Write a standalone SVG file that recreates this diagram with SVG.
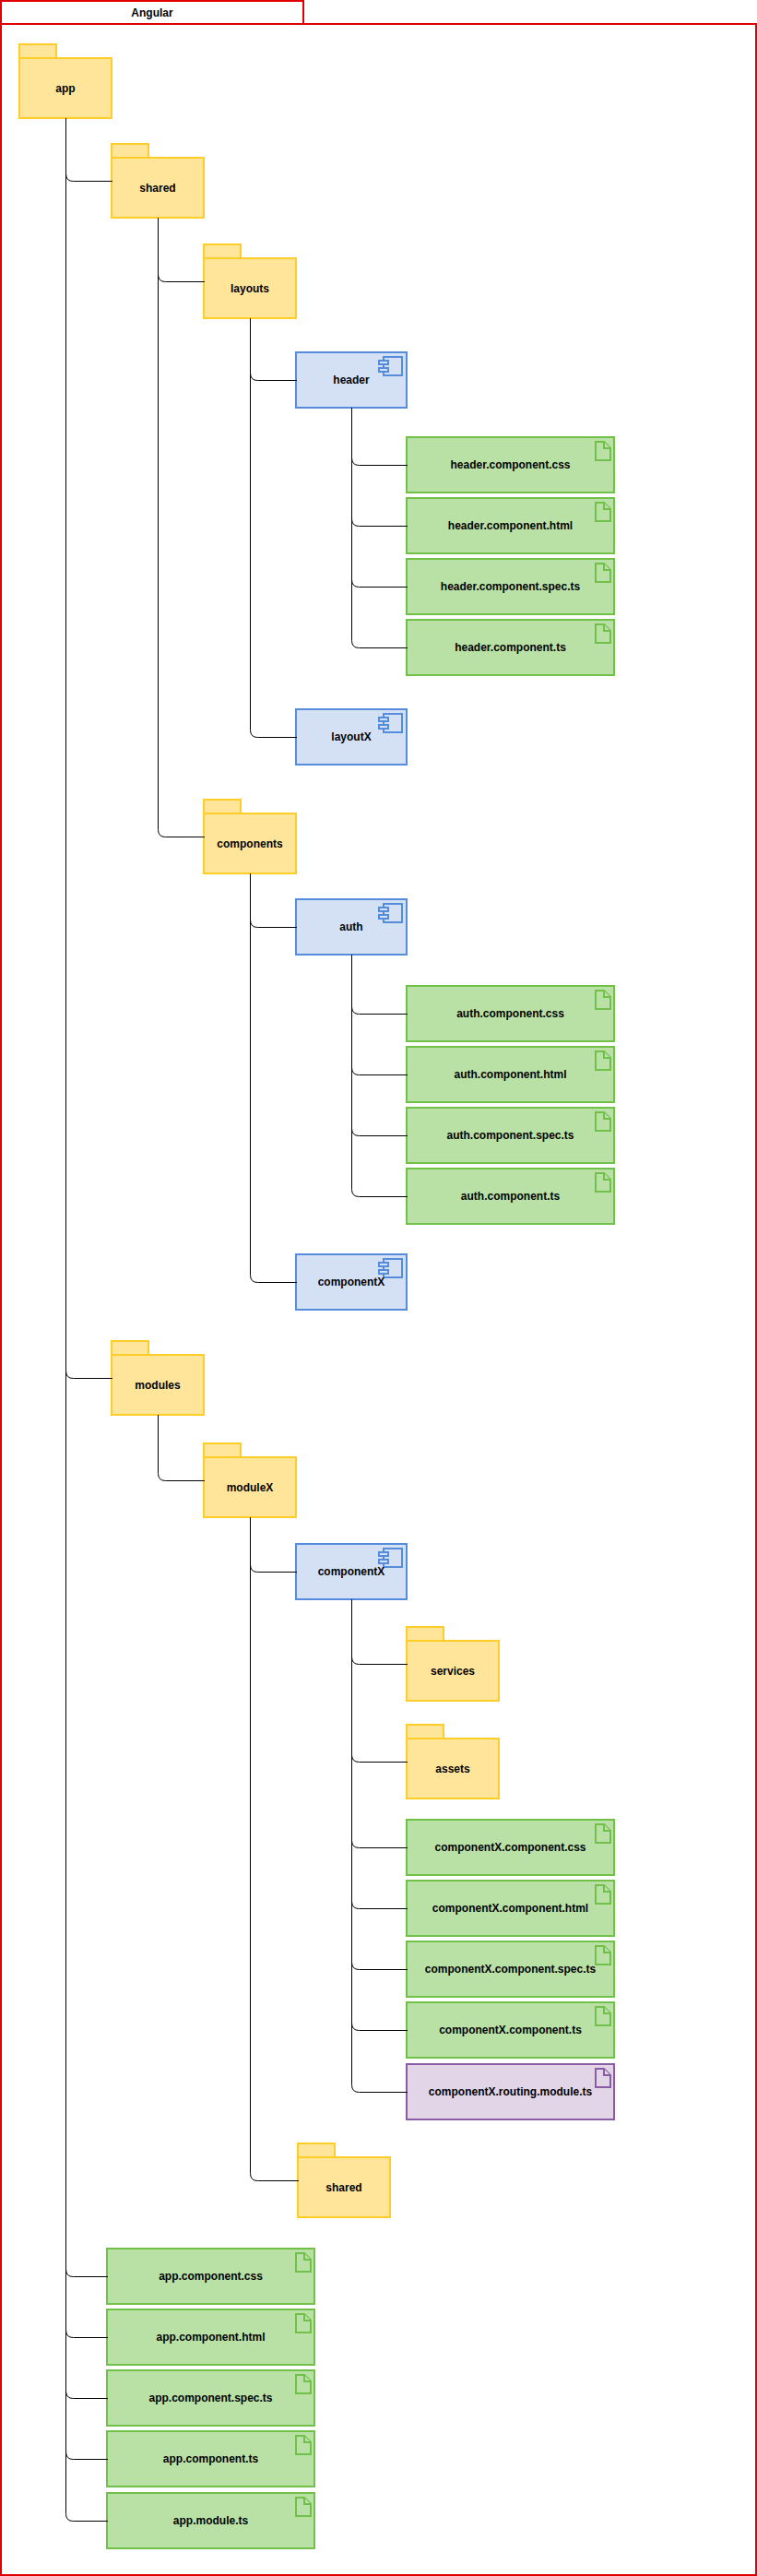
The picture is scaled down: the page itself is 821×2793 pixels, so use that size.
<svg xmlns="http://www.w3.org/2000/svg" xmlns:xlink="http://www.w3.org/1999/xlink" width="821" height="2793" viewBox="0 0 821 2793">
<style>
text{font-family:"Liberation Sans",Arial,Helvetica,sans-serif;font-size:12px;font-weight:bold;fill:#000;text-anchor:middle;opacity:.99}
.lane{fill:#fff;stroke:#e00000;stroke-width:2}
.folder{fill:#ffe599;stroke:#ffcd28;stroke-width:2}
.comp{fill:#d4e1f5;stroke:#558cdc;stroke-width:2}
.file{fill:#b9e0a5;stroke:#70c04a;stroke-width:2}
.route{fill:#e1d5e7;stroke:#8a5ca6;stroke-width:2}
.edge{fill:none;stroke:#000;stroke-width:1}
</style>
<defs>
<g id="folderShape"><rect x="0" y="0" width="40" height="15"/><rect x="0" y="15" width="100" height="65"/></g>
<g id="compShape"><rect x="0" y="0" width="120" height="60"/><rect x="95" y="5" width="20" height="20"/><rect x="90" y="9" width="10" height="4"/><rect x="90" y="17" width="10" height="4"/></g>
<g id="fileShape"><rect x="0" y="0" width="225" height="60"/><path d="M205 5H214L221 12V25H205Z"/><path d="M214 5V12H221"/></g>
</defs>
<g id="angular"><rect class="lane" x="1" y="26" width="819" height="2766"/><rect class="lane" x="1" y="1" width="328" height="25"/><text x="165" y="18">Angular</text></g>

<g id="node-app"><use href="#folderShape" class="folder" x="21" y="48"/><text x="71" y="100">app</text></g>
<g id="node-shared"><use href="#folderShape" class="folder" x="121" y="156"/><text x="171" y="208">shared</text></g>
<g id="node-layouts"><use href="#folderShape" class="folder" x="221" y="265"/><text x="271" y="317">layouts</text></g>
<g id="node-header"><use href="#compShape" class="comp" x="321" y="382"/><text x="381" y="416">header</text></g>
<g id="node-header-css"><use href="#fileShape" class="file" x="441" y="474"/><text x="553.5" y="508">header.component.css</text></g>
<g id="node-header-html"><use href="#fileShape" class="file" x="441" y="540"/><text x="553.5" y="574">header.component.html</text></g>
<g id="node-header-spec"><use href="#fileShape" class="file" x="441" y="606"/><text x="553.5" y="640">header.component.spec.ts</text></g>
<g id="node-header-ts"><use href="#fileShape" class="file" x="441" y="672"/><text x="553.5" y="706">header.component.ts</text></g>
<g id="node-layoutX"><use href="#compShape" class="comp" x="321" y="769"/><text x="381" y="803">layoutX</text></g>
<g id="node-components"><use href="#folderShape" class="folder" x="221" y="867"/><text x="271" y="919">components</text></g>
<g id="node-auth"><use href="#compShape" class="comp" x="321" y="975"/><text x="381" y="1009">auth</text></g>
<g id="node-auth-css"><use href="#fileShape" class="file" x="441" y="1069"/><text x="553.5" y="1103">auth.component.css</text></g>
<g id="node-auth-html"><use href="#fileShape" class="file" x="441" y="1135"/><text x="553.5" y="1169">auth.component.html</text></g>
<g id="node-auth-spec"><use href="#fileShape" class="file" x="441" y="1201"/><text x="553.5" y="1235">auth.component.spec.ts</text></g>
<g id="node-auth-ts"><use href="#fileShape" class="file" x="441" y="1267"/><text x="553.5" y="1301">auth.component.ts</text></g>
<g id="node-componentX-a"><use href="#compShape" class="comp" x="321" y="1360"/><text x="381" y="1394">componentX</text></g>
<g id="node-modules"><use href="#folderShape" class="folder" x="121" y="1454"/><text x="171" y="1506">modules</text></g>
<g id="node-moduleX"><use href="#folderShape" class="folder" x="221" y="1565"/><text x="271" y="1617">moduleX</text></g>
<g id="node-componentX-b"><use href="#compShape" class="comp" x="321" y="1674"/><text x="381" y="1708">componentX</text></g>
<g id="node-services"><use href="#folderShape" class="folder" x="441" y="1764"/><text x="491" y="1816">services</text></g>
<g id="node-assets"><use href="#folderShape" class="folder" x="441" y="1870"/><text x="491" y="1922">assets</text></g>
<g id="node-componentX-css"><use href="#fileShape" class="file" x="441" y="1973"/><text x="553.5" y="2007">componentX.component.css</text></g>
<g id="node-componentX-html"><use href="#fileShape" class="file" x="441" y="2039"/><text x="553.5" y="2073">componentX.component.html</text></g>
<g id="node-componentX-spec"><use href="#fileShape" class="file" x="441" y="2105"/><text x="553.5" y="2139">componentX.component.spec.ts</text></g>
<g id="node-componentX-ts"><use href="#fileShape" class="file" x="441" y="2171"/><text x="553.5" y="2205">componentX.component.ts</text></g>
<g id="node-componentX-routing"><use href="#fileShape" class="route" x="441" y="2238"/><text x="553.5" y="2272">componentX.routing.module.ts</text></g>
<g id="node-shared-b"><use href="#folderShape" class="folder" x="323" y="2324"/><text x="373" y="2376">shared</text></g>
<g id="node-app-css"><use href="#fileShape" class="file" x="116" y="2438"/><text x="228.5" y="2472">app.component.css</text></g>
<g id="node-app-html"><use href="#fileShape" class="file" x="116" y="2504"/><text x="228.5" y="2538">app.component.html</text></g>
<g id="node-app-spec"><use href="#fileShape" class="file" x="116" y="2570"/><text x="228.5" y="2604">app.component.spec.ts</text></g>
<g id="node-app-ts"><use href="#fileShape" class="file" x="116" y="2636"/><text x="228.5" y="2670">app.component.ts</text></g>
<g id="node-app-module"><use href="#fileShape" class="file" x="116" y="2703"/><text x="228.5" y="2737">app.module.ts</text></g>

<g id="connectors" class="edge">
<path d="M71.5 128V188.5Q71.5 196.5 79.5 196.5H122"/>
<path d="M71.5 128V1486.5Q71.5 1494.5 79.5 1494.5H122"/>
<path d="M71.5 128V2460.5Q71.5 2468.5 79.5 2468.5H117"/>
<path d="M71.5 128V2526.5Q71.5 2534.5 79.5 2534.5H117"/>
<path d="M71.5 128V2592.5Q71.5 2600.5 79.5 2600.5H117"/>
<path d="M71.5 128V2658.5Q71.5 2666.5 79.5 2666.5H117"/>
<path d="M71.5 128V2725.5Q71.5 2733.5 79.5 2733.5H117"/>
<path d="M171.5 236V297.5Q171.5 305.5 179.5 305.5H222"/>
<path d="M171.5 236V899.5Q171.5 907.5 179.5 907.5H222"/>
<path d="M271.5 345V404.5Q271.5 412.5 279.5 412.5H322"/>
<path d="M271.5 345V791.5Q271.5 799.5 279.5 799.5H322"/>
<path d="M381.5 442V496.5Q381.5 504.5 389.5 504.5H442"/>
<path d="M381.5 442V562.5Q381.5 570.5 389.5 570.5H442"/>
<path d="M381.5 442V628.5Q381.5 636.5 389.5 636.5H442"/>
<path d="M381.5 442V694.5Q381.5 702.5 389.5 702.5H442"/>
<path d="M271.5 947V997.5Q271.5 1005.5 279.5 1005.5H322"/>
<path d="M271.5 947V1382.5Q271.5 1390.5 279.5 1390.5H322"/>
<path d="M381.5 1035V1091.5Q381.5 1099.5 389.5 1099.5H442"/>
<path d="M381.5 1035V1157.5Q381.5 1165.5 389.5 1165.5H442"/>
<path d="M381.5 1035V1223.5Q381.5 1231.5 389.5 1231.5H442"/>
<path d="M381.5 1035V1289.5Q381.5 1297.5 389.5 1297.5H442"/>
<path d="M171.5 1534V1597.5Q171.5 1605.5 179.5 1605.5H222"/>
<path d="M271.5 1645V1696.5Q271.5 1704.5 279.5 1704.5H322"/>
<path d="M271.5 1645V2356.5Q271.5 2364.5 279.5 2364.5H324"/>
<path d="M381.5 1734V1796.5Q381.5 1804.5 389.5 1804.5H442"/>
<path d="M381.5 1734V1902.5Q381.5 1910.5 389.5 1910.5H442"/>
<path d="M381.5 1734V1995.5Q381.5 2003.5 389.5 2003.5H442"/>
<path d="M381.5 1734V2061.5Q381.5 2069.5 389.5 2069.5H442"/>
<path d="M381.5 1734V2127.5Q381.5 2135.5 389.5 2135.5H442"/>
<path d="M381.5 1734V2193.5Q381.5 2201.5 389.5 2201.5H442"/>
<path d="M381.5 1734V2260.5Q381.5 2268.5 389.5 2268.5H442"/>
</g>
</svg>
